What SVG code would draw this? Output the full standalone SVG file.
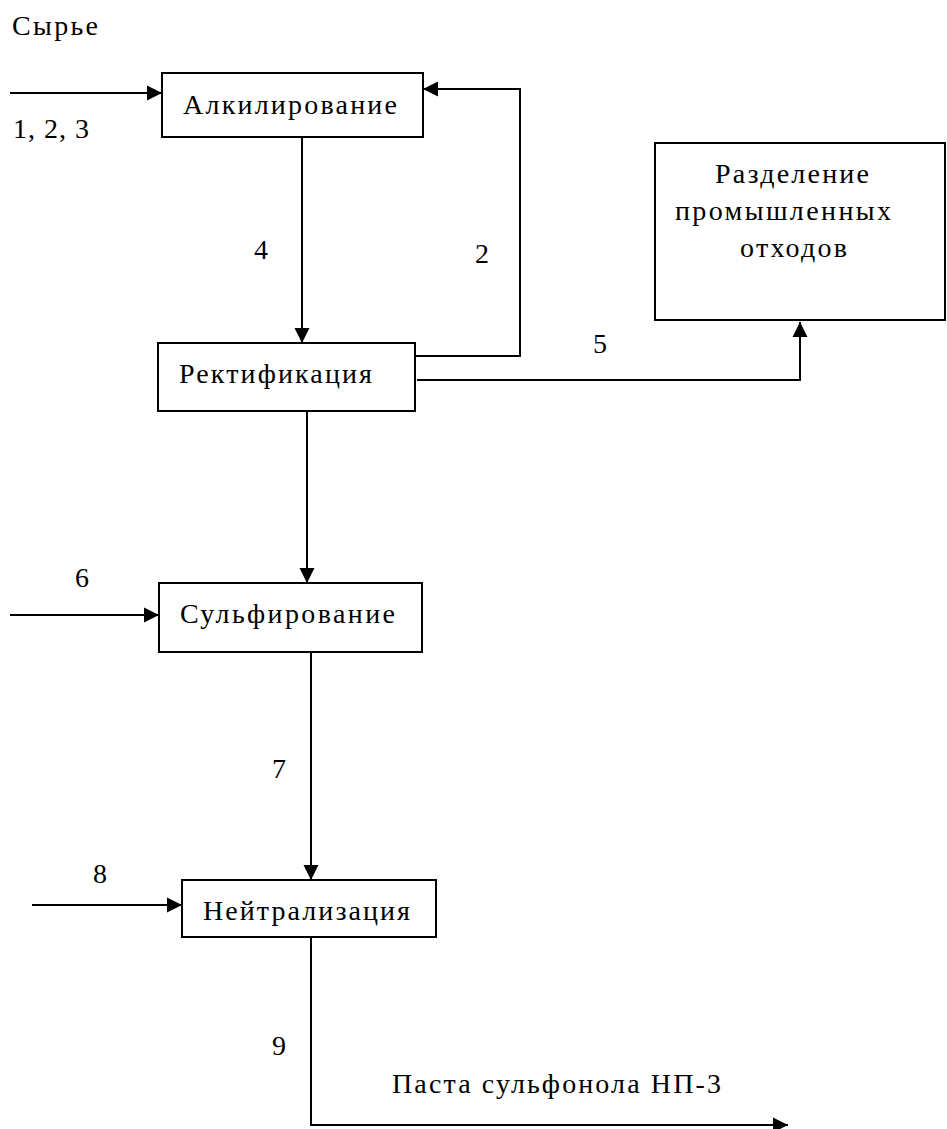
<svg xmlns="http://www.w3.org/2000/svg" width="947" height="1129" viewBox="0 0 947 1129">
<style>
.box{fill:#fff;stroke:#000;stroke-width:2}
.ln{fill:none;stroke:#000;stroke-width:2}
.c{text-anchor:middle}
</style>
<defs>
<marker id="ah" markerUnits="userSpaceOnUse" markerWidth="15" markerHeight="16" viewBox="0 0 15 16" refX="15" refY="8" orient="auto">
<path d="M0,0.5 L15,8 L0,15.5 Z" fill="#000"/>
</marker>
</defs>
<rect width="947" height="1129" fill="#fff"/>
<g font-family="Liberation Serif, DejaVu Serif, serif" font-size="28" fill="#000">
<text x="12" y="35" textLength="86" lengthAdjust="spacing">Сырье</text>
<text x="13" y="138" textLength="76" lengthAdjust="spacing">1, 2, 3</text>
<g id="connectors">
<path class="ln" d="M10,93 L162,93" marker-end="url(#ah)"/>
<path class="ln" d="M302,137 L302,343" marker-end="url(#ah)"/>
<path class="ln" d="M416,356 L520,356 L520,89 L423,89" marker-end="url(#ah)"/>
<path class="ln" d="M417,380 L800,380 L800,322" marker-end="url(#ah)"/>
<path class="ln" d="M307,411 L307,583" marker-end="url(#ah)"/>
<path class="ln" d="M10,615 L159,615" marker-end="url(#ah)"/>
<path class="ln" d="M311,652 L311,880" marker-end="url(#ah)"/>
<path class="ln" d="M32,905 L182,905" marker-end="url(#ah)"/>
<path class="ln" d="M311,937 L311,1125 L788,1125" marker-end="url(#ah)"/>
<text class="c" x="261" y="259">4</text>
<text class="c" x="482" y="263">2</text>
<text class="c" x="600" y="353">5</text>
<text class="c" x="82" y="587">6</text>
<text class="c" x="279" y="778">7</text>
<text class="c" x="100" y="883">8</text>
<text class="c" x="279" y="1055">9</text>
<text x="392" y="1093" textLength="329" lengthAdjust="spacing">Паста сульфонола НП-3</text>
</g>
<g id="alk">
<rect class="box" x="162" y="73" width="261" height="64"/>
<text x="183" y="114" textLength="214" lengthAdjust="spacing">Алкилирование</text>
</g>
<g id="rekt">
<rect class="box" x="158" y="343" width="257" height="68"/>
<text x="179" y="383" textLength="193" lengthAdjust="spacing">Ректификация</text>
</g>
<g id="razd">
<rect class="box" x="655" y="143" width="290" height="177"/>
<text x="715" y="183" textLength="154" lengthAdjust="spacing">Разделение</text>
<text x="675" y="220" textLength="216" lengthAdjust="spacing">промышленных</text>
<text x="740" y="257" textLength="107" lengthAdjust="spacing">отходов</text>
</g>
<g id="sulf">
<rect class="box" x="159" y="583" width="263" height="69"/>
<text x="180" y="623" textLength="215" lengthAdjust="spacing">Сульфирование</text>
</g>
<g id="neut">
<rect class="box" x="182" y="880" width="254" height="57"/>
<text x="203" y="920" textLength="207" lengthAdjust="spacing">Нейтрализация</text>
</g>
</g>
</svg>
